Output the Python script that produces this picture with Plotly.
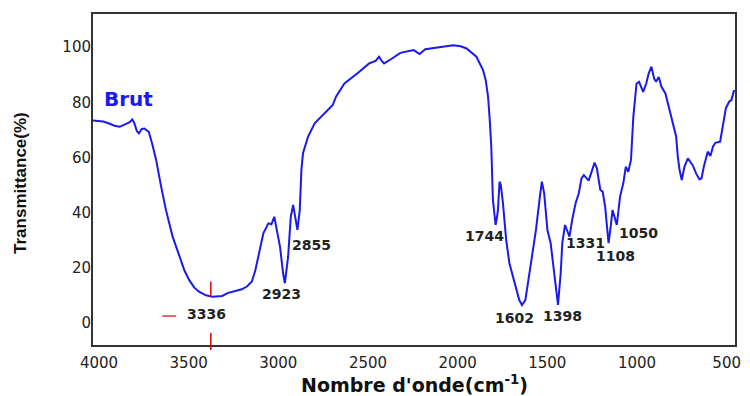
import plotly.graph_objects as go

# FTIR spectrum "Brut"
wavenumber = [4000, 3970, 3943, 3910, 3880, 3851, 3830, 3814, 3795, 3781, 3770, 3755, 3744, 3728,
              3713, 3700, 3689, 3670, 3648, 3620, 3593, 3556, 3519, 3490, 3464, 3435, 3409, 3370,
              3335, 3300, 3280, 3250, 3225, 3188, 3170, 3140, 3114, 3095, 3077, 3050, 3022, 3005,
              2989, 2975, 2957, 2940, 2930, 2912, 2897, 2884, 2872, 2860, 2847, 2838, 2829, 2801,
              2764, 2709, 2663, 2645, 2598, 2525, 2460, 2424, 2405, 2390, 2377, 2341, 2286, 2212,
              2179, 2147, 2065, 1991, 1950, 1917, 1862, 1825, 1810, 1797, 1788, 1779, 1770, 1762,
              1755, 1748, 1742, 1733, 1726, 1714, 1696, 1678, 1650, 1623, 1608, 1589, 1558, 1530,
              1508, 1497, 1484, 1466, 1448, 1429, 1407, 1392, 1383, 1368, 1356, 1343, 1328, 1309,
              1291, 1276, 1263, 1236, 1203, 1190, 1171, 1158, 1144, 1125, 1113, 1103, 1090, 1079,
              1061, 1043, 1029, 1015, 1000, 987, 969, 955, 932, 915, 901, 886, 871, 860, 845, 830,
              808, 790, 766, 748, 739, 729, 717, 702, 683, 656, 637, 619, 607, 594, 572, 557, 543,
              530, 503, 490, 471, 453, 440, 425]
transmittance = [73.4, 73.2, 73.0, 72.3, 71.5, 71.1, 71.8, 72.1, 72.8, 73.8, 72.5, 69.5, 68.7, 70.3,
                 70.5, 69.8, 69.3, 65.0, 59.1, 49.4, 40.9, 31.3, 24.0, 19.0, 15.6, 12.8, 11.3, 10.0,
                 9.5, 9.6, 9.8, 10.8, 11.3, 12.0, 12.2, 13.3, 15.0, 19.0, 24.0, 32.5, 36.1, 35.8,
                 38.5, 34.0, 27.6, 18.0, 14.4, 24.0, 38.5, 42.8, 38.5, 33.7, 40.9, 55.4, 61.5, 67.5,
                 72.4, 76.0, 79.0, 82.0, 86.8, 90.5, 94.1, 95.0, 96.5, 95.0, 94.1, 95.5, 97.9, 98.9,
                 97.5, 99.2, 100.1, 100.7, 100.3, 99.5, 96.5, 91.7, 88.0, 82.0, 74.0, 63.9, 44.6, 38.0,
                 35.5, 38.0, 40.9, 51.2, 50.0, 43.4, 30.1, 21.6, 14.4, 8.3, 6.5, 8.3, 21.6, 33.7,
                 45.8, 51.2, 47.0, 33.7, 28.9, 18.0, 6.5, 18.0, 28.9, 35.5, 33.7, 31.3, 37.3, 43.4,
                 47.0, 52.4, 53.6, 51.6, 58.1, 56.0, 48.2, 47.6, 42.1, 28.9, 35.0, 40.9, 38.0, 35.5,
                 45.8, 50.6, 56.6, 54.8, 59.1, 74.7, 86.8, 87.4, 83.8, 86.8, 90.5, 92.9, 88.6, 87.4, 89.2, 85.6,
                 83.2, 78.4, 72.4, 67.5, 60.3, 55.4, 51.8, 56.6, 59.7, 57.2, 54.2, 52.1, 52.4, 56.6, 62.1, 60.5, 63.9,
                 65.3, 65.7, 71.1, 77.8, 80.2, 80.8, 84.4]

# Peak labels: text, anchor wavenumber, anchor transmittance
peak_labels = ["3336", "2923", "2855", "1744", "1602", "1398", "1331", "1108", "1050"]
peak_label_x = [3366, 2949, 2783, 1818, 1650, 1380, 1254, 1088, 960]
peak_label_y = [3.3, 10.4, 28.3, 31.5, 1.7, 2.5, 28.9, 24.3, 32.7]

x_ticks = [4000, 3500, 3000, 2500, 2000, 1500, 1000, 500]
y_ticks = [0, 20, 40, 60, 80, 100]

curve_color = "#1a1aeb"
frame_color = "#333333"
text_color = "#222222"

fig = go.Figure()
fig.add_trace(go.Scatter(x=wavenumber, y=transmittance, mode="lines",
                         line=dict(color=curve_color, width=2), showlegend=False))

for t, xv, yv in zip(peak_labels, peak_label_x, peak_label_y):
    fig.add_annotation(x=xv, y=yv, text="<b>%s</b>" % t, showarrow=False,
                       font=dict(family="DejaVu Sans", size=14, color=text_color),
                       xanchor="center", yanchor="middle")

fig.add_annotation(x=3801, y=81.2, text="<b>Brut</b>", showarrow=False,
                   font=dict(family="DejaVu Sans", size=20, color="#1a1af0"),
                   xanchor="center", yanchor="middle")

# red markers around the 3336 band
red = "#e00000"
fig.add_shape(type="line", x0=3613, x1=3536, y0=2.5, y1=2.5, xref="x", yref="y",
              line=dict(color=red, width=1.2))
fig.add_shape(type="line", x0=3343, x1=3343, y0=9.5, y1=15.0, xref="x", yref="y",
              line=dict(color=red, width=1.5))
fig.add_shape(type="line", x0=3343, x1=3343, y0=0.036, y1=-0.015, xref="x", yref="paper",
              line=dict(color=red, width=1.5))

# axis titles
fig.add_annotation(x=0.5, y=-0.119, xref="paper", yref="paper",
                   text="<b>Nombre d'onde(cm<sup>-1</sup>)</b>", showarrow=False,
                   font=dict(family="DejaVu Sans", size=19, color="#111111"),
                   xanchor="center", yanchor="middle")
fig.add_annotation(x=-0.114, y=0.489, xref="paper", yref="paper",
                   text="<b>Transmittance(%)</b>", showarrow=False, textangle=-90,
                   font=dict(family="Liberation Sans", size=17, color="#111111"),
                   xanchor="center", yanchor="middle")

fig.update_xaxes(range=[4000, 420], tickvals=x_ticks, ticktext=[str(v) for v in x_ticks],
                 showgrid=False, zeroline=False, showline=True, mirror=True,
                 linecolor=frame_color, linewidth=2, ticks="", ticklabelshift=-6,
                 ticklabelstandoff=3,
                 tickfont=dict(family="DejaVu Sans", size=15, color=text_color))
fig.update_yaxes(range=[-8, 112], tickvals=y_ticks, ticktext=[str(v) for v in y_ticks],
                 showgrid=False, zeroline=False, showline=True, mirror=True,
                 linecolor=frame_color, linewidth=2, ticks="", ticklabelstandoff=-3,
                 tickfont=dict(family="DejaVu Sans", size=15, color=text_color))

fig.update_layout(width=750, height=396, margin=dict(l=93, r=9, t=14, b=51),
                  plot_bgcolor="white", paper_bgcolor="white")

fig.write_html("out.html")
